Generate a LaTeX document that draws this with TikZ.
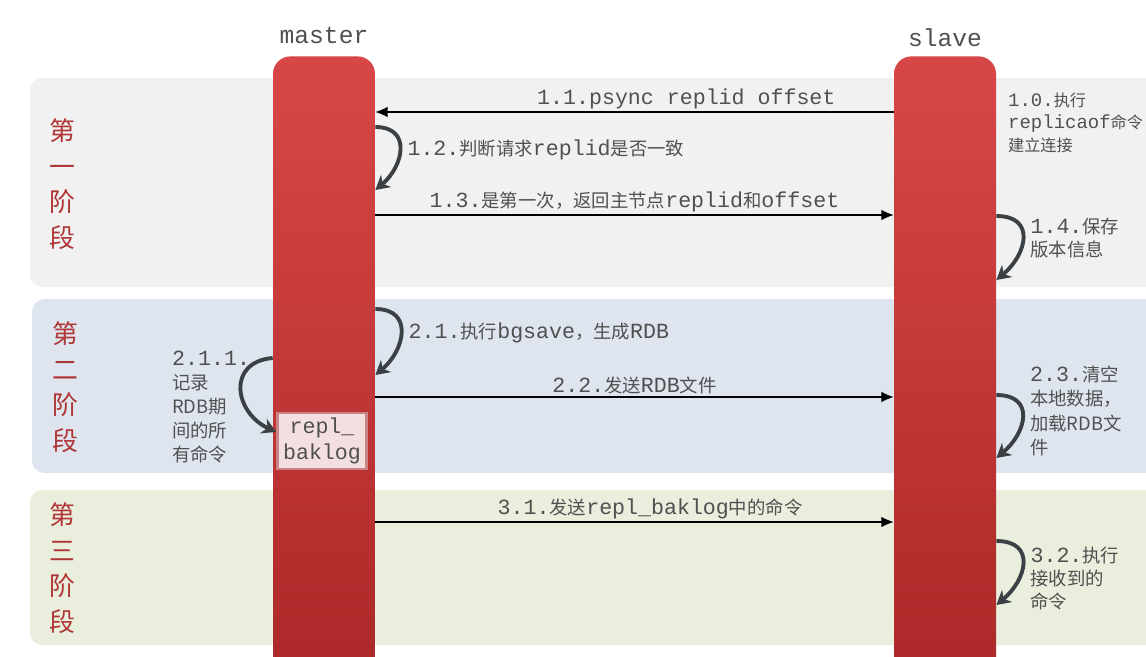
\documentclass[tikz,border=0pt]{standalone}
\usepackage{fontspec}
\setmainfont{Liberation Mono}
\newfontfamily\cjk[Scale=0.85]{Noto Sans CJK SC}
\newfontfamily\cjkphase{Noto Sans CJK SC}
\usetikzlibrary{arrows.meta,positioning}
\definecolor{barTop}{HTML}{D84747}
\definecolor{barBot}{HTML}{A92626}
\definecolor{bandOne}{HTML}{F1F1F1}
\definecolor{bandTwo}{HTML}{DEE5EF}
\definecolor{bandThree}{HTML}{E9EEDD}
\definecolor{txtgray}{HTML}{505050}
\definecolor{phasered}{HTML}{B03636}
\definecolor{loopgray}{HTML}{3B4045}
\definecolor{logfill}{HTML}{F3DFDF}
\definecolor{logedge}{HTML}{C98585}
\newcommand{\zh}[1]{{\cjk #1}}

\tikzset{
  lifeline/.style={rounded corners=0.35cm, top color=barTop, bottom color=barBot,
    minimum width=2.04cm, minimum height=13.3cm, anchor=north, inner sep=0pt},
  band/.style={rounded corners=0.25cm},
  phase/.style={text=phasered, font=\cjkphase\fontsize{14.7pt}{20.2pt}\selectfont, align=center},
  msg/.style={-{Latex[length=7pt,width=6pt]}, line width=0.6pt},
  selfloop/.style={-{Stealth[length=8pt,width=9pt]}, line width=2.2pt, draw=loopgray},
  note/.style={text=txtgray, font=\fontsize{12.3pt}{13pt}\selectfont, align=left},
  msglabel/.style={note, above, inner sep=1.5pt},
  role/.style={text=txtgray, font=\fontsize{14pt}{16pt}\selectfont},
  logbox/.style={fill=logfill, draw=logedge, line width=1.5pt, minimum width=1.78cm,
    minimum height=1.12cm, inner sep=1pt, text=txtgray, align=center,
    font=\fontsize{12.3pt}{15pt}\selectfont},
}

\begin{document}
\begin{tikzpicture}[x=0.02cm, y=-0.02cm]
\useasboundingbox (0,0) rectangle (1146,656);

% phase bands
\fill[bandOne, band] (30,78) rectangle (1175,287);
\fill[bandTwo, band] (32,299) rectangle (1175,473);
\fill[bandThree, band] (30,490) rectangle (1175,645);
\node[phase] (ph1) at (62,184) {第\\一\\阶\\段};
\node[phase] (ph2) at (65,387) {第\\二\\阶\\段};
\node[phase] (ph3) at (62,568) {第\\三\\阶\\段};

% lifelines
\node[lifeline] (master) at (324,56) {};
\node[lifeline] (slave) at (945,56) {};
\node[role, above=0.12cm of master] (masterlbl) {master};
\node[role, above=0.06cm of slave] (slavelbl) {slave};
\node[logbox] (baklog) at (322,441) {repl\_\\baklog};

% row heights
\coordinate (r11) at (0,112);
\coordinate (r12a) at (0,127);
\coordinate (r12b) at (0,190);
\coordinate (r13) at (0,215);
\coordinate (r14a) at (0,216);
\coordinate (r14b) at (0,280);
\coordinate (r21a) at (0,309);
\coordinate (r21b) at (0,375);
\coordinate (r211a) at (0,358);
\coordinate (r211b) at (0,432);
\coordinate (r22) at (0,397);
\coordinate (r23a) at (0,395);
\coordinate (r23b) at (0,458);
\coordinate (r31) at (0,522);
\coordinate (r32a) at (0,541);
\coordinate (r32b) at (0,605);

% phase one
\node[note, anchor=north west, font=\fontsize{10.8pt}{12.6pt}\selectfont] (l10) at (1002,87)
  {1.0.\zh{执行}\\replicaof\zh{命令}\\\zh{建立连接}};
\draw[msg] (slave.west |- r11) -- node[pos=0.40, msglabel] (l11) {1.1.psync replid offset} (master.east |- r11);
\draw[selfloop] (master.east |- r12a) to[out=0, in=40, looseness=1.5]
  node[pos=0.5, right, note] (l12) {1.2.\zh{判断请求}replid\zh{是否一致}} (master.east |- r12b);
\draw[msg] (master.east |- r13) -- node[pos=0.50, msglabel] (l13) {1.3.\zh{是第一次，返回主节点}replid\zh{和}offset} (slave.west |- r13);
\draw[selfloop] (slave.east |- r14a) to[out=0, in=40, looseness=1.6]
  node[pos=0.5, right, note] (l14) {1.4.\zh{保存}\\\zh{版本信息}} (slave.east |- r14b);

% phase two
\draw[selfloop] (master.east |- r21a) to[out=0, in=40, looseness=1.5]
  node[pos=0.5, right, note] (l21) {2.1.\zh{执行}bgsave\zh{，生成}RDB} (master.east |- r21b);
\draw[selfloop] (master.west |- r211a) to[out=185, in=155, looseness=1.6] (baklog.west |- r211b);
\node[note, anchor=north west, font=\fontsize{12.3pt}{13.6pt}\selectfont] (l211) at (166,345)
  {2.1.1.\\\zh{记录}\\\zh{RDB期}\\\zh{间的所}\\\zh{有命令}};
\draw[msg] (master.east |- r22) -- node[pos=0.50, msglabel] (l22) {2.2.\zh{发送}RDB\zh{文件}} (slave.west |- r22);
\draw[selfloop] (slave.east |- r23a) to[out=0, in=40, looseness=1.6]
  node[pos=0.5, right, note, yshift=0.12cm, font=\fontsize{12.3pt}{14pt}\selectfont] (l23)
  {2.3.\zh{清空}\\\zh{本地数据，}\\\zh{加载RDB文}\\\zh{件}} (slave.east |- r23b);

% phase three
\draw[msg] (master.east |- r31) -- node[pos=0.53, msglabel] (l31) {3.1.\zh{发送}repl\_baklog\zh{中的命令}} (slave.west |- r31);
\draw[selfloop] (slave.east |- r32a) to[out=0, in=40, looseness=1.6]
  node[pos=0.5, right, note, yshift=-0.3cm] (l32) {3.2.\zh{执行}\\\zh{接收到的}\\\zh{命令}} (slave.east |- r32b);
\end{tikzpicture}
\end{document}
